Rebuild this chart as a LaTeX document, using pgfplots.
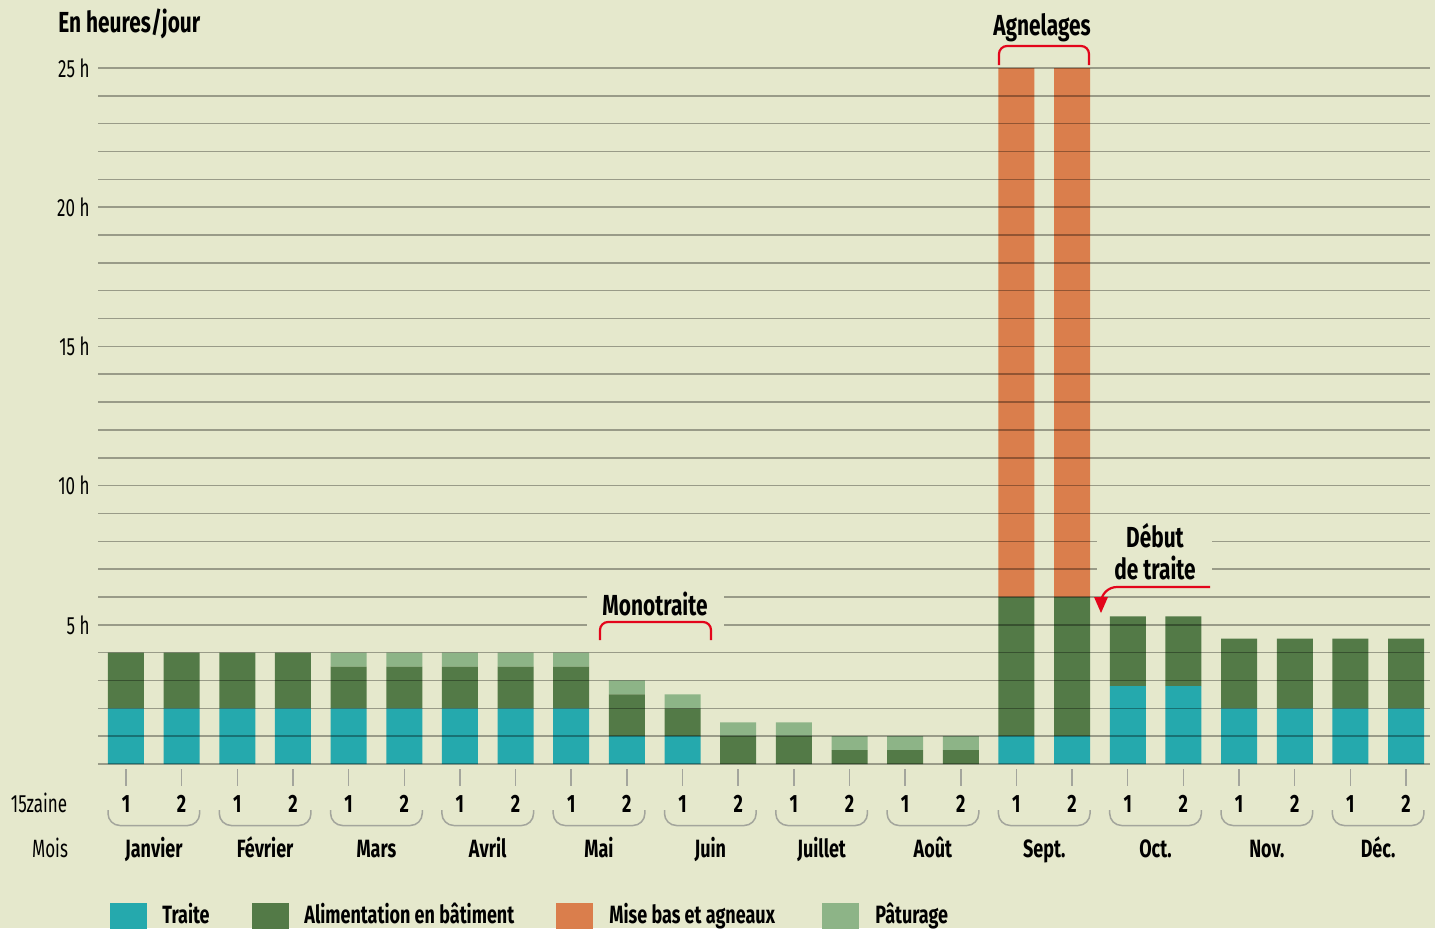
\documentclass[border=0pt]{standalone}
\usepackage{fontspec}
\setmainfont{Fira Sans}[FakeStretch=0.72]
\newfontfamily\regf{Fira Sans}[FakeStretch=0.68]
\usepackage{pgfplots}
\pgfplotsset{compat=1.18}
\definecolor{bg}{HTML}{E5E8CC}
\definecolor{traite}{HTML}{25A9AD}
\definecolor{alim}{HTML}{537A47}
\definecolor{misebas}{HTML}{DA7E4C}
\definecolor{patur}{HTML}{8DB487}
\definecolor{rouge}{HTML}{E3051B}
\definecolor{tickgray}{HTML}{A3A59C}
\begin{document}
\begin{tikzpicture}
\useasboundingbox (0pt,0pt) rectangle (717.5pt,-464pt);
\fill[bg] (0pt,0pt) rectangle (717.5pt,-464pt);
\begin{axis}[at={(49pt,-382pt)}, anchor=south west, scale only axis,
  width=666pt, height=348pt,
  xmin=-0.503, xmax=23.43, ymin=0, ymax=25,
  ybar stacked, bar width=18pt,
  axis line style={draw=none}, xtick=\empty,
  ytick={5,10,15,20,25}, yticklabels={5 h,10 h,15 h,20 h,25 h},
  minor ytick={0,1,2,3,4,6,7,8,9,11,12,13,14,16,17,18,19,21,22,23,24},
  ymajorgrids, yminorgrids,
  major grid style={draw=black, opacity=0.33, line width=0.75pt},
  minor grid style={draw=black, opacity=0.33, line width=0.75pt},
  major tick length=0pt, minor tick length=0pt,
  yticklabel style={font=\regf\fontsize{12.5}{14}\selectfont, anchor=east, inner sep=0pt, xshift=-4pt},
  axis on top, clip=false]
\addplot[fill=traite, draw=none] coordinates {(0,2)(1,2)(2,2)(3,2)(4,2)(5,2)(6,2)(7,2)(8,2)(9,1)(10,1)(11,0)(12,0)(13,0)(14,0)(15,0)(16,1)(17,1)(18,2.8)(19,2.8)(20,2)(21,2)(22,2)(23,2)};
\addplot[fill=alim, draw=none] coordinates {(0,2)(1,2)(2,2)(3,2)(4,1.5)(5,1.5)(6,1.5)(7,1.5)(8,1.5)(9,1.5)(10,1)(11,1)(12,1)(13,0.5)(14,0.5)(15,0.5)(16,5)(17,5)(18,2.5)(19,2.5)(20,2.5)(21,2.5)(22,2.5)(23,2.5)};
\addplot[fill=misebas, draw=none] coordinates {(0,0)(1,0)(2,0)(3,0)(4,0)(5,0)(6,0)(7,0)(8,0)(9,0)(10,0)(11,0)(12,0)(13,0)(14,0)(15,0)(16,19)(17,19)(18,0)(19,0)(20,0)(21,0)(22,0)(23,0)};
\addplot[fill=patur, draw=none] coordinates {(0,0)(1,0)(2,0)(3,0)(4,0.5)(5,0.5)(6,0.5)(7,0.5)(8,0.5)(9,0.5)(10,0.5)(11,0.5)(12,0.5)(13,0.5)(14,0.5)(15,0.5)(16,0)(17,0)(18,0)(19,0)(20,0)(21,0)(22,0)(23,0)};
\end{axis}
\begin{scope}[x=0.5pt,y=-0.5pt]
% title
\node[anchor=base west, inner sep=0pt, font=\bfseries\fontsize{14.5}{17}\selectfont] at (58,32) {En heures/jour};
% Agnelages
\node[anchor=base, inner sep=0pt, font=\bfseries\fontsize{14.5}{17}\selectfont] at (1042,35) {Agnelages};
\draw[rouge, line width=1.1pt, rounded corners=4pt] (999,65) -- (999,46) -- (1089,46) -- (1089,65);
% Monotraite
\fill[bg] (587,584) rectangle (724,647);
\node[anchor=base, inner sep=0pt, font=\bfseries\fontsize{14.5}{17}\selectfont] at (655,615) {Monotraite};
\draw[rouge, line width=1.1pt, rounded corners=4pt] (600,640) -- (600,622) -- (711,622) -- (711,640);
% Debut de traite
\fill[bg] (1097,520) rectangle (1212,582);
\node[anchor=base, inner sep=0pt, font=\bfseries\fontsize{14.5}{17}\selectfont] at (1155,547) {Début};
\node[anchor=base, inner sep=0pt, font=\bfseries\fontsize{14.5}{17}\selectfont] at (1155,579) {de traite};
\draw[rouge, line width=1.1pt, rounded corners=8pt] (1210,587) -- (1101,587) -- (1101,602);
\fill[rouge] (1094,597) -- (1108,597) -- (1101,613) -- cycle;
% x axis annotations
\node[anchor=base, inner sep=0pt, font=\regf\fontsize{12.5}{14}\selectfont] at (39,812) {15zaine};
\node[anchor=base, inner sep=0pt, font=\regf\fontsize{12.5}{14}\selectfont] at (50,857) {Mois};
\foreach \i in {0,...,23}{
  \pgfmathsetmacro{\px}{126+\i*55.65}
  \pgfmathtruncatemacro{\q}{mod(\i,2)+1}
  \draw[tickgray, line width=0.75pt] (\px,769) -- (\px,786);
  \node[anchor=base, inner sep=0pt, font=\bfseries\fontsize{12.5}{14}\selectfont] at (\px,812) {\q};
}
\foreach \m/\name in {0/Janvier,1/Février,2/Mars,3/Avril,4/Mai,5/Juin,6/Juillet,7/Août,8/Sept.,9/Oct.,10/Nov.,11/Déc.}{
  \pgfmathsetmacro{\xa}{126+2*\m*55.65-18}
  \pgfmathsetmacro{\xb}{126+(2*\m+1)*55.65+18}
  \pgfmathsetmacro{\xc}{(\xa+\xb)/2}
  \draw[tickgray, line width=0.75pt, rounded corners=6pt] (\xa,810) -- (\xa,825.5) -- (\xb,825.5) -- (\xb,810);
  \node[anchor=base, inner sep=0pt, font=\bfseries\fontsize{12.5}{14}\selectfont] at (\xc,857) {\name};
}
% legend
\fill[traite] (110,903) rectangle (147,940);
\node[anchor=base west, inner sep=0pt, font=\bfseries\fontsize{12.5}{14}\selectfont] at (162,923) {Traite};
\fill[alim] (252,903) rectangle (289,940);
\node[anchor=base west, inner sep=0pt, font=\bfseries\fontsize{12.5}{14}\selectfont] at (304,923) {Alimentation en bâtiment};
\fill[misebas] (556,903) rectangle (593,940);
\node[anchor=base west, inner sep=0pt, font=\bfseries\fontsize{12.5}{14}\selectfont] at (609,923) {Mise bas et agneaux};
\fill[patur] (822,903) rectangle (859,940);
\node[anchor=base west, inner sep=0pt, font=\bfseries\fontsize{12.5}{14}\selectfont] at (875,923) {Pâturage};
\end{scope}
\end{tikzpicture}
\end{document}
